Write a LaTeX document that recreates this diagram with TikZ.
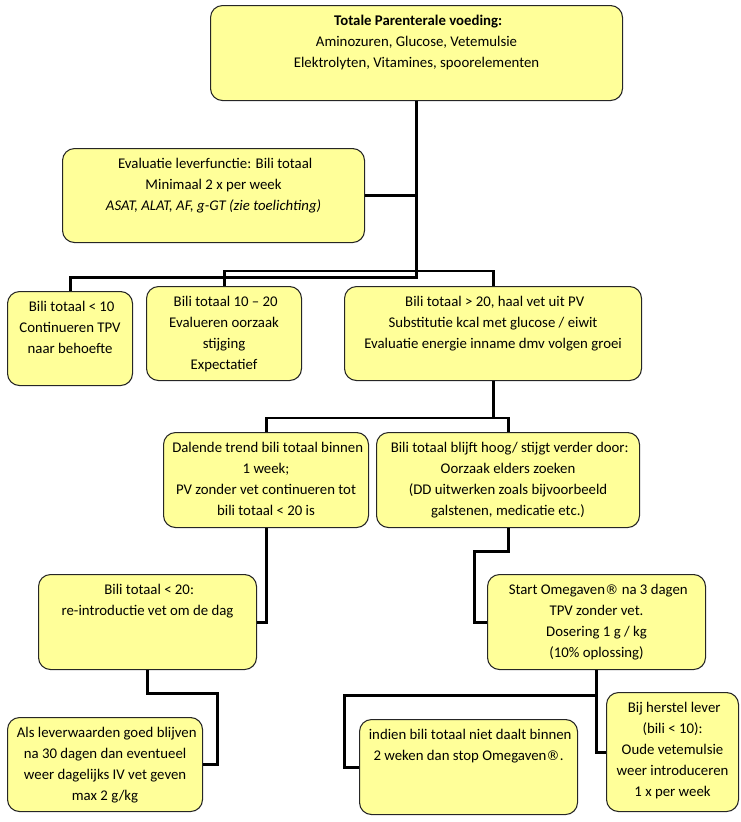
\documentclass[tikz,border=0pt]{standalone}
\usepackage{fontspec}
\setmainfont{Carlito}
\newfontfamily\markfont{DejaVu Sans}
\newdimen\px \px=0.75pt
\newcommand{\boxtxt}[3]{\parbox[c][#2][t]{#1}{\centering\vspace*{4pt}\strut#3}}
\newcommand{\regmark}{{\markfont\fontsize{10}{15.75}\selectfont ®}}
\definecolor{boxyellow}{RGB}{255,255,153}
\tikzset{
	flowbox/.style={draw=black!85,line width=0.8pt,fill=boxyellow,rounded corners=9pt,inner sep=0pt,anchor=north west},
	link/.style={line width=2.2pt,black}
}

\begin{document}
\begin{tikzpicture}[x=0.75pt,y=-0.75pt,font=\fontsize{11.1}{15.75}\selectfont]
	\useasboundingbox (0,0) rectangle (741,822);
	
	\node[flowbox] (top) at (210,5) {\boxtxt{412\px}{95\px}{
		\textbf{Totale Parenterale voeding:}\\
		Aminozuren, Glucose, Vetemulsie\\
		Elektrolyten, Vitamines, spoorelementen}};
	
	\node[flowbox] (evalu) at (62,148) {\boxtxt{302\px}{94\px}{
		Evaluatie leverfunctie: Bili totaal\\
		Minimaal 2 x per week\\
		\textit{ASAT, ALAT, AF, g-GT (zie toelichting)}}};
	
	\node[flowbox] (low) at (7,291) {\boxtxt{125\px}{94\px}{
		Bili totaal < 10\\
		Continueren TPV\\
		naar behoefte}};
	
	\node[flowbox] (mid) at (146,286) {\boxtxt{155\px}{94\px}{
		Bili totaal 10 -- 20\\
		Evalueren oorzaak\\
		stijging\\
		Expectatief}};
	
	\node[flowbox] (high) at (344,286) {\boxtxt{297\px}{94\px}{
		Bili totaal > 20, haal vet uit PV\\
		Substitutie kcal met glucose / eiwit\\
		Evaluatie energie inname dmv volgen groei}};
	
	\node[flowbox] (dalend) at (163,432) {\boxtxt{205\px}{95\px}{
		Dalende trend bili totaal binnen\\
		1 week;\\
		PV zonder vet continueren tot\\
		bili totaal < 20 is}};
	
	\node[flowbox] (hoog) at (376,432) {\boxtxt{263\px}{95\px}{
		Bili totaal blijft hoog/ stijgt verder door:\\
		Oorzaak elders zoeken\\
		(DD uitwerken zoals bijvoorbeeld\\
		galstenen, medicatie etc.)}};
	
	\node[flowbox] (reintro) at (38,574) {\boxtxt{218\px}{95\px}{
		Bili totaal < 20:\\
		re-introductie vet om de dag}};
	
	\node[flowbox] (dagelijks) at (7,717) {\boxtxt{195\px}{94\px}{
		Als leverwaarden goed blijven\\
		na 30 dagen dan eventueel\\
		weer dagelijks IV vet geven\\
		max 2 g/kg}};
	
	\node[flowbox] (omega) at (487,574) {\boxtxt{218\px}{95\px}{
		Start Omegaven\regmark{} na 3 dagen\\
		TPV zonder vet.\\
		Dosering 1 g / kg\\
		(10\% oplossing)}};
	
	\node[flowbox] (stop) at (359,719) {\boxtxt{218\px}{95\px}{
		indien bili totaal niet daalt binnen\\
		2 weken dan stop Omegaven\regmark.}};
	
	\node[flowbox] (herstel) at (606,692) {\boxtxt{132\px}{119\px}{
		Bij herstel lever\\
		(bili < 10):\\
		Oude vetemulsie\\
		weer introduceren\\
		1 x per week}};
	
	% connectors
	\draw[link] (top.south) -- ++(0,176) -| (low.north);
	\draw[link] (evalu.east) -- (evalu.east -| top.south);
	\draw[link] (mid.north) -- ++(0,-15) -| (high.north);
	\draw[link] (high.south) -- ++(0,38);
	\draw[link] (dalend.north) -- ++(0,-14) -| (hoog.north);
	\draw[link] (dalend.south) |- (reintro.east);
	\draw[link] (reintro.south) -- ++(0,23) -- ++(70,0) |- (dagelijks.east);
	\draw[link] (hoog.south) -- ++(0,23) -- ++(-34,0) |- (omega.west);
	\draw[link] (omega.south) -- ++(0,25) -- ++(-252,0) |- (stop.west);
	\draw[link] (omega.south) |- (herstel.west);
\end{tikzpicture}
\end{document}
